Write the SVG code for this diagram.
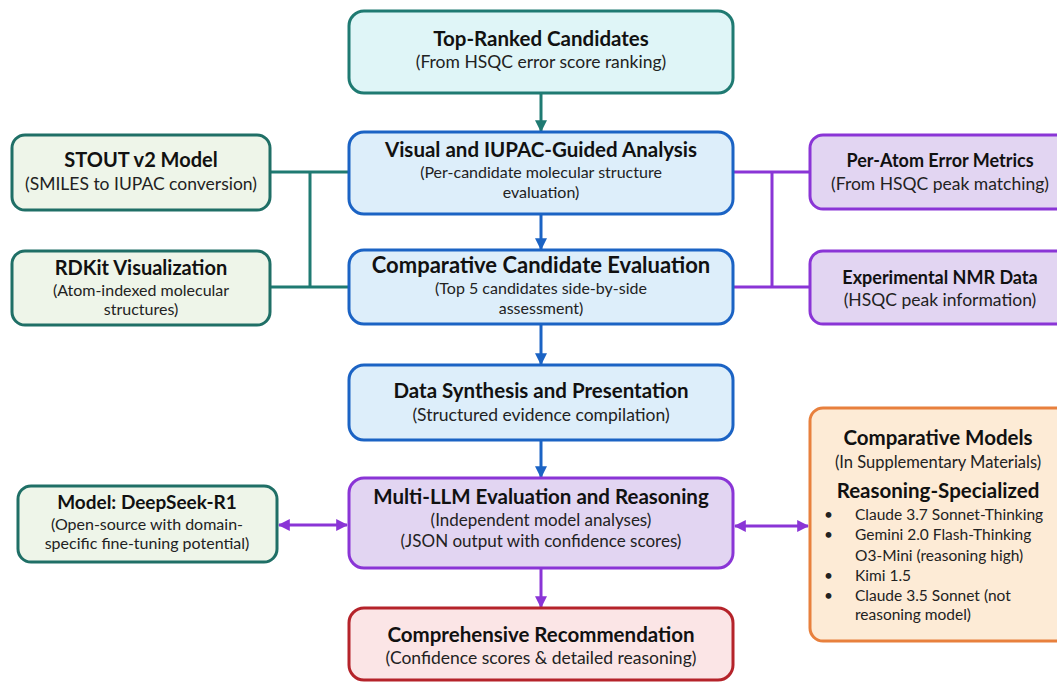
<svg xmlns="http://www.w3.org/2000/svg" width="1057" height="683" viewBox="0 0 1057 683">
<style>
text{font-family:Lato,"Liberation Sans",sans-serif;fill:#111;text-anchor:middle}
.t{font-weight:700;font-size:20.5px}
.tl{font-weight:700;font-size:22px}
.s{font-size:17.5px;fill:#222}
.m{font-size:16px;fill:#222}
.b{font-size:15.5px;fill:#222;text-anchor:start}
.teal{fill:#dff5f7;stroke:#1f7a72;stroke-width:3}
.blue{fill:#ddeefa;stroke:#1b63c4;stroke-width:3}
.green{fill:#eef5e9;stroke:#1f6f66;stroke-width:3}
.purple{fill:#e2d5f2;stroke:#8a35d6;stroke-width:3}
.orange{fill:#fdebd6;stroke:#e8803d;stroke-width:3}
.red{fill:#fbe5e6;stroke:#b5232a;stroke-width:3}
.cl{fill:none;stroke-width:3}
</style>
<defs>
<marker id="aT" viewBox="0 0 10 10" refX="9" refY="5" markerWidth="4" markerHeight="4" orient="auto"><path d="M0,0L10,5L0,10z" fill="#1f7a72"/></marker>
<marker id="aB" viewBox="0 0 10 10" refX="9" refY="5" markerWidth="4" markerHeight="4" orient="auto"><path d="M0,0L10,5L0,10z" fill="#1b63c4"/></marker>
<marker id="aP" viewBox="0 0 10 10" refX="9" refY="5" markerWidth="4" markerHeight="4" orient="auto-start-reverse"><path d="M0,0L10,5L0,10z" fill="#8a35d6"/></marker>
</defs>
<g id="connectors">
<path class="cl" stroke="#1f7a72" d="M541,93V131" marker-end="url(#aT)"/>
<path class="cl" stroke="#1b63c4" d="M541,214V249" marker-end="url(#aB)"/>
<path class="cl" stroke="#1b63c4" d="M541,324V364" marker-end="url(#aB)"/>
<path class="cl" stroke="#1b63c4" d="M541,440V477" marker-end="url(#aB)"/>
<path class="cl" stroke="#8a35d6" d="M541,568V607" marker-end="url(#aP)"/>
<path class="cl" stroke="#1f7a72" stroke-width="2.5" d="M270,172H348M310,172V287M270,287H348"/>
<path class="cl" stroke="#8a35d6" stroke-width="2.5" d="M733,172H810M772,172V287M733,287H810"/>
<path class="cl" stroke="#8a35d6" d="M279,525H347" marker-start="url(#aP)" marker-end="url(#aP)"/>
<path class="cl" stroke="#8a35d6" d="M735,526H808" marker-start="url(#aP)" marker-end="url(#aP)"/>
</g>
<g id="top">
<rect class="teal" x="349" y="11" width="384" height="82" rx="15"/>
<text class="t" x="541" y="46">Top-Ranked Candidates</text>
<text class="s" x="541" y="68">(From HSQC error score ranking)</text>
</g>
<g id="visual">
<rect class="blue" x="349" y="132" width="384" height="82" rx="15"/>
<text class="t" x="541" y="157">Visual and IUPAC-Guided Analysis</text>
<text class="m" x="541" y="178">(Per-candidate molecular structure</text>
<text class="m" x="541" y="197.5">evaluation)</text>
</g>
<g id="comparative">
<rect class="blue" x="349" y="250" width="384" height="74" rx="15"/>
<text class="tl" x="541" y="273">Comparative Candidate Evaluation</text>
<text class="m" x="541" y="294">(Top 5 candidates side-by-side</text>
<text class="m" x="541" y="313.5">assessment)</text>
</g>
<g id="synthesis">
<rect class="blue" x="349" y="365" width="384" height="75" rx="15"/>
<text class="t" x="541" y="398">Data Synthesis and Presentation</text>
<text class="s" x="541" y="421">(Structured evidence compilation)</text>
</g>
<g id="multillm">
<rect class="purple" x="349" y="478" width="384" height="90" rx="15"/>
<text class="t" x="541" y="504">Multi-LLM Evaluation and Reasoning</text>
<text class="s" x="541" y="526" style="font-size:17px">(Independent model analyses)</text>
<text class="s" x="541" y="546.5" style="font-size:17px">(JSON output with confidence scores)</text>
</g>
<g id="recommendation">
<rect class="red" x="349" y="608" width="384" height="72" rx="15"/>
<text class="t" x="541" y="642">Comprehensive Recommendation</text>
<text class="s" x="541" y="664">(Confidence scores &amp; detailed reasoning)</text>
</g>
<g id="stout">
<rect class="green" x="12" y="135" width="258" height="75" rx="13"/>
<text class="t" x="141" y="167" style="font-size:20px">STOUT v2 Model</text>
<text class="s" x="141" y="190">(SMILES to IUPAC conversion)</text>
</g>
<g id="rdkit">
<rect class="green" x="12" y="251" width="258" height="74" rx="13"/>
<text class="t" x="141" y="275" style="font-size:20px">RDKit Visualization</text>
<text class="m" x="141" y="295.5">(Atom-indexed molecular</text>
<text class="m" x="141" y="315">structures)</text>
</g>
<g id="peratom">
<rect class="purple" x="810" y="135" width="262" height="74" rx="13"/>
<text class="t" x="940" y="167" style="font-size:18px">Per-Atom Error Metrics</text>
<text class="s" x="940" y="189.5">(From HSQC peak matching)</text>
</g>
<g id="nmr">
<rect class="purple" x="810" y="251" width="262" height="73" rx="13"/>
<text class="t" x="940" y="284" style="font-size:18px">Experimental NMR Data</text>
<text class="s" x="940" y="306">(HSQC peak information)</text>
</g>
<g id="deepseek">
<rect class="green" x="18" y="486" width="259" height="76" rx="13"/>
<text class="t" x="147" y="509" style="font-size:19px">Model: DeepSeek-R1</text>
<text class="m" x="147" y="529.5">(Open-source with domain-</text>
<text class="m" x="147" y="549">specific fine-tuning potential)</text>
</g>
<g id="models">
<rect class="orange" x="810" y="408" width="262" height="233" rx="13"/>
<text class="t" x="938" y="445">Comparative Models</text>
<text class="s" x="938" y="468" style="font-size:16.5px">(In Supplementary Materials)</text>
<text class="t" x="938" y="498">Reasoning-Specialized</text>
<text class="b" x="824" y="520">•</text><text class="b" x="855" y="520">Claude 3.7 Sonnet-Thinking</text>
<text class="b" x="824" y="540">•</text><text class="b" x="855" y="540">Gemini 2.0 Flash-Thinking</text>
<text class="b" x="855" y="561">O3-Mini (reasoning high)</text>
<text class="b" x="824" y="581">•</text><text class="b" x="855" y="581">Kimi 1.5</text>
<text class="b" x="824" y="600.5">•</text><text class="b" x="855" y="600.5">Claude 3.5 Sonnet (not</text>
<text class="b" x="855" y="620">reasoning model)</text>
</g>
</svg>
